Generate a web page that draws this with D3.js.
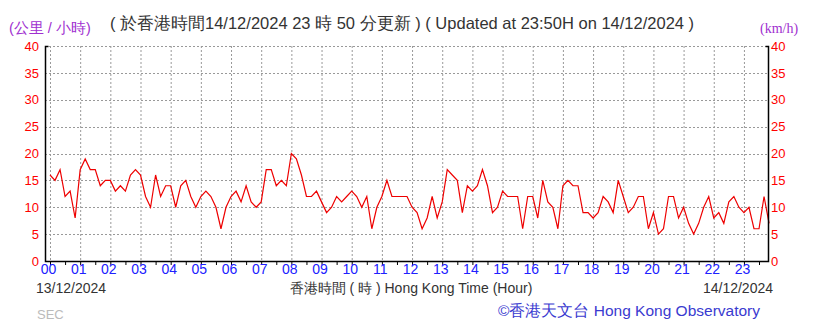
<!DOCTYPE html>
<html>
<head>
<meta charset="utf-8">
<script src="https://cdn.jsdelivr.net/npm/d3@7"></script>
<style>
  body { margin: 0; background: #fff; }
  svg { display: block; }
</style>
</head>
<body>
<script>
const width = 819;
const height = 323;

// wind speed (km/h), one reading every 10 minutes from 00:00 to 23:50
const speeds = [
    16, 15, 17, 12, 13, 8, 17, 19, 17, 17, 14, 15,
    15, 13, 14, 13, 16, 17, 16, 12, 10, 16, 12, 14,
    14, 10, 14, 15, 12, 10, 12, 13, 12, 10, 6, 10,
    12, 13, 11, 14, 11, 10, 11, 17, 17, 14, 15, 14,
    20, 19, 16, 12, 12, 13, 11, 9, 10, 12, 11, 12,
    13, 12, 10, 12, 6, 10, 12, 15, 12, 12, 12, 12,
    10, 9, 6, 8, 12, 8, 11, 17, 16, 15, 9, 14,
    13, 14, 17, 14, 9, 10, 13, 12, 12, 12, 6, 12,
    12, 8, 15, 11, 10, 6, 14, 15, 14, 14, 9, 9,
    8, 9, 12, 11, 9, 15, 12, 9, 10, 12, 12, 6,
    9, 5, 6, 12, 12, 8, 10, 7, 5, 7, 10, 12,
    8, 9, 7, 11, 12, 10, 9, 10, 6, 6, 12, 7
];
const hourLabels = d3.range(24).map(h => d3.format("02d")(h));
const speedTicks = [0, 5, 10, 15, 20, 25, 30, 35, 40];

const svg = d3.select("body")
    .append("svg")
    .attr("width", width)
    .attr("height", height)
    .style("font-family", "'Liberation Sans', Arial, sans-serif");

const x = d3.scaleLinear().domain([0, 24]).range([50, 774.1]);
const y = d3.scaleLinear().domain([0, 40]).range([261, 46]);

const left = 45;
const right = Math.round(x(23 + 50 / 60)) - 1;

// dotted grid
svg.append("g")
    .selectAll("line")
    .data(d3.range(24))
    .join("line")
    .attr("x1", d => x(d) + 0.5)
    .attr("x2", d => x(d) + 0.5)
    .attr("y1", y(40))
    .attr("y2", y(0))
    .attr("stroke", "#999")
    .attr("stroke-dasharray", "2,2");

svg.append("g")
    .selectAll("line")
    .data(speedTicks.slice(1))
    .join("line")
    .attr("x1", left)
    .attr("x2", right)
    .attr("y1", d => Math.round(y(d)) + 0.5)
    .attr("y2", d => Math.round(y(d)) + 0.5)
    .attr("stroke", "#999")
    .attr("stroke-dasharray", "2,2");

// the wind line
const line = d3.line()
    .x((d, i) => x(i / 6))
    .y(d => y(d));

svg.append("path")
    .datum(speeds)
    .attr("fill", "none")
    .attr("stroke", "#ee0000")
    .attr("stroke-width", 1.2)
    .attr("d", line);

// frame: left, bottom, right with little hooks at the top
svg.append("path")
    .attr("d", `M${left + 3.5},${y(40) + 0.5}H${left + 0.5}V${y(0) + 0.5}H${right + 0.5}V${y(40) + 0.5}H${right - 2.5}`)
    .attr("fill", "none")
    .attr("stroke", "#000")
    .attr("stroke-width", 1.5);

// half hour ticks under the axis
svg.append("g")
    .attr("transform", `translate(0,${y(0) + 1})`)
    .call(d3.axisBottom(x).tickValues(d3.range(0, 24, 0.5)).tickSize(3).tickFormat(""))
    .call(g => g.select(".domain").remove())
    .call(g => g.selectAll("line").attr("stroke", "#000"));

// hour labels
svg.append("g")
    .attr("transform", `translate(-2,${y(0)})`)
    .call(d3.axisBottom(x).tickValues(d3.range(24)).tickSize(0).tickPadding(3)
        .tickFormat((d, i) => hourLabels[i]))
    .call(g => g.select(".domain").remove())
    .call(g => g.selectAll("text")
        .attr("fill", "#2020ff")
        .attr("font-size", "14px")
        .attr("font-family", "'Liberation Sans', Arial, sans-serif"));

// speed labels, both sides
svg.append("g")
    .attr("transform", `translate(${left - 6},0)`)
    .call(d3.axisLeft(y).tickValues(speedTicks).tickSize(0).tickPadding(0))
    .call(g => g.select(".domain").remove())
    .call(g => g.selectAll("text")
        .attr("fill", "#ff0000")
        .attr("font-size", "13px")
        .attr("font-family", "'Liberation Sans', Arial, sans-serif"));

svg.append("g")
    .attr("transform", `translate(${right + 3},0)`)
    .call(d3.axisRight(y).tickValues(speedTicks).tickSize(0).tickPadding(0))
    .call(g => g.select(".domain").remove())
    .call(g => g.selectAll("text")
        .attr("fill", "#ff0000")
        .attr("font-size", "13px")
        .attr("font-family", "'Liberation Sans', Arial, sans-serif"));

// texts
svg.append("text")
    .attr("x", 402)
    .attr("y", 29)
    .attr("text-anchor", "middle")
    .attr("font-size", "16.5px")
    .attr("fill", "#333")
    .text("( 於香港時間14/12/2024 23 時 50 分更新 ) ( Updated at 23:50H on 14/12/2024 )");

svg.append("text")
    .attr("x", 9)
    .attr("y", 33)
    .attr("font-size", "14.5px")
    .attr("fill", "#a030d0")
    .text("(公里 / 小時)");

svg.append("text")
    .attr("x", 760)
    .attr("y", 33)
    .attr("font-size", "14px")
    .attr("font-family", "'Liberation Serif', serif")
    .attr("fill", "#a030d0")
    .text("(km/h)");

svg.append("text")
    .attr("x", 36)
    .attr("y", 293)
    .attr("font-size", "14px")
    .attr("fill", "#333")
    .text("13/12/2024");

svg.append("text")
    .attr("x", 411)
    .attr("y", 293)
    .attr("text-anchor", "middle")
    .attr("font-size", "14px")
    .attr("fill", "#333")
    .text("香港時間 ( 時 ) Hong Kong Time (Hour)");

svg.append("text")
    .attr("x", 773)
    .attr("y", 293)
    .attr("text-anchor", "end")
    .attr("font-size", "14px")
    .attr("fill", "#333")
    .text("14/12/2024");

svg.append("text")
    .attr("x", 760)
    .attr("y", 316)
    .attr("text-anchor", "end")
    .attr("font-size", "15.5px")
    .attr("fill", "#3a3ad0")
    .text("©香港天文台 Hong Kong Observatory");

svg.append("text")
    .attr("x", 37)
    .attr("y", 319)
    .attr("font-size", "13px")
    .attr("fill", "#bbb")
    .text("SEC");
</script>
</body>
</html>
